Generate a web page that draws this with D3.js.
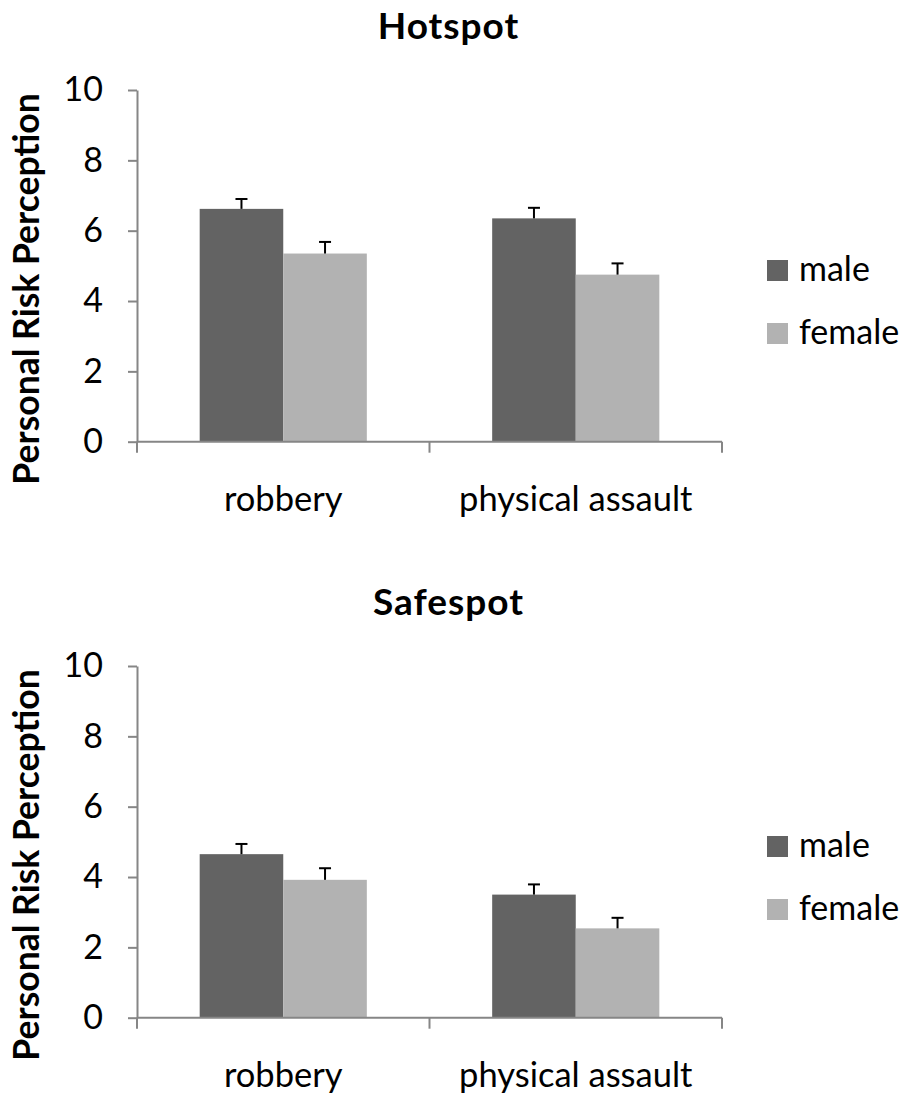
<!DOCTYPE html>
<html>
<head>
<meta charset="utf-8">
<script src="https://cdn.jsdelivr.net/npm/d3@7"></script>
<style>
	body { margin: 0; background: #fff; }
	text { font-family: Lato, "Open Sans", sans-serif; fill: #000; }
</style>
</head>
<body>
<svg id="chart" width="905" height="1099"></svg>
<script>
// values
var categories = ['robbery', 'physical assault'],
	series = ['male', 'female'],
	yTicks = [0, 2, 4, 6, 8, 10];

var hotspotMale = [6.62, 6.35],
	hotspotFemale = [5.35, 4.75],
	hotspotMaleErr = [0.28, 0.30],
	hotspotFemaleErr = [0.33, 0.32];

var safespotMale = [4.65, 3.50],
	safespotFemale = [3.92, 2.54],
	safespotMaleErr = [0.29, 0.29],
	safespotFemaleErr = [0.33, 0.30];

var colors = {male: '#636363', female: '#b2b2b2'},
	axisColor = '#868686';

var svg = d3.select('#chart');

function panel(top, title, male, female, maleErr, femaleErr) {
	var y = d3.scaleLinear().domain([0, 10]).range([top + 351.7, top]),
		x0 = d3.scaleBand().domain(categories).range([137, 722]),
		groupW = x0.bandwidth() / 1.75,
		x1 = d3.scaleBand().domain(series).range([0, groupW]),
		off = (x0.bandwidth() - groupW) / 2;

	var rows = categories.map(function(c, i) {
		return [
			{cat: c, key: 'male', value: male[i], err: maleErr[i]},
			{cat: c, key: 'female', value: female[i], err: femaleErr[i]}
		];
	});
	rows = _flat(rows);

	var g = svg.append('g');

	// title
	g.append('text')
		.attr('x', 448.5)
		.attr('y', top - 51)
		.attr('text-anchor', 'middle')
		.style('font-size', '37px')
		.style('letter-spacing', '1px')
		.style('font-weight', 'bold')
		.text(title);

	// y label
	g.append('text')
		.attr('transform', 'translate(39,' + (top + 199) + ') rotate(-90)')
		.attr('text-anchor', 'middle')
		.style('font-size', '35.5px')
		.style('font-weight', 'bold')
		.text('Personal Risk Perception');

	// bars
	g.selectAll('.bar')
		.data(rows)
		.enter().append('rect')
		.attr('class', 'bar')
		.attr('x', function(d) { return x0(d.cat) + off + x1(d.key); })
		.attr('y', function(d) { return y(d.value); })
		.attr('width', x1.bandwidth())
		.attr('height', function(d) { return y(0) - y(d.value); })
		.attr('fill', function(d) { return colors[d.key]; });

	// error bars (upper only)
	var eb = g.selectAll('.err')
		.data(rows)
		.enter().append('g')
		.attr('class', 'err')
		.attr('transform', function(d) { return 'translate(' + (x0(d.cat) + off + x1(d.key) + x1.bandwidth() / 2) + ',0)'; });
	eb.append('line')
		.attr('y1', function(d) { return y(d.value); })
		.attr('y2', function(d) { return y(d.value + d.err); })
		.attr('stroke', '#000')
		.attr('stroke-width', 2);
	eb.append('line')
		.attr('x1', -6).attr('x2', 6)
		.attr('y1', function(d) { return y(d.value + d.err); })
		.attr('y2', function(d) { return y(d.value + d.err); })
		.attr('stroke', '#000')
		.attr('stroke-width', 2);

	// y axis
	var yAxis = g.append('g')
		.attr('transform', 'translate(137,0)')
		.call(d3.axisLeft(y).tickValues(yTicks).tickSize(9).tickPadding(25).tickSizeOuter(0));
	yAxis.selectAll('line, path').attr('stroke', axisColor).attr('stroke-width', 2);
	yAxis.selectAll('text')
		.style('font-family', 'Lato, sans-serif')
		.style('font-size', '34px')
		.attr('fill', '#000');

	// x axis
	var xAxis = g.append('g').attr('transform', 'translate(0,' + y(0) + ')');
	xAxis.append('line')
		.attr('x1', 137).attr('x2', 722)
		.attr('stroke', axisColor).attr('stroke-width', 2);
	xAxis.selectAll('.bnd')
		.data(categories.map(function(c) { return x0(c); }).concat([x0.range()[1]]))
		.enter().append('line')
		.attr('class', 'bnd')
		.attr('x1', function(d) { return d; }).attr('x2', function(d) { return d; })
		.attr('y1', 0).attr('y2', 11)
		.attr('stroke', axisColor).attr('stroke-width', 2);
	xAxis.selectAll('.cat')
		.data(categories)
		.enter().append('text')
		.attr('class', 'cat')
		.attr('x', function(c) { return x0(c) + x0.bandwidth() / 2; })
		.attr('y', 69)
		.attr('text-anchor', 'middle')
		.style('font-size', '34.5px')
		.text(function(c) { return c; });

	// legend
	var leg = g.selectAll('.leg')
		.data(series)
		.enter().append('g')
		.attr('class', 'leg')
		.attr('transform', function(d, i) { return 'translate(767,' + (top + 170 + i * 63) + ')'; });
	leg.append('rect')
		.attr('width', 21).attr('height', 21)
		.attr('fill', function(d) { return colors[d]; });
	leg.append('text')
		.attr('x', 32)
		.attr('y', 21)
		.style('font-size', '34px')
		.text(function(d) { return d; });
}

function _flat(a) { return [].concat.apply([], a); }

panel(90, 'Hotspot', hotspotMale, hotspotFemale, hotspotMaleErr, hotspotFemaleErr);
panel(666, 'Safespot', safespotMale, safespotFemale, safespotMaleErr, safespotFemaleErr);
</script>
</body>
</html>
